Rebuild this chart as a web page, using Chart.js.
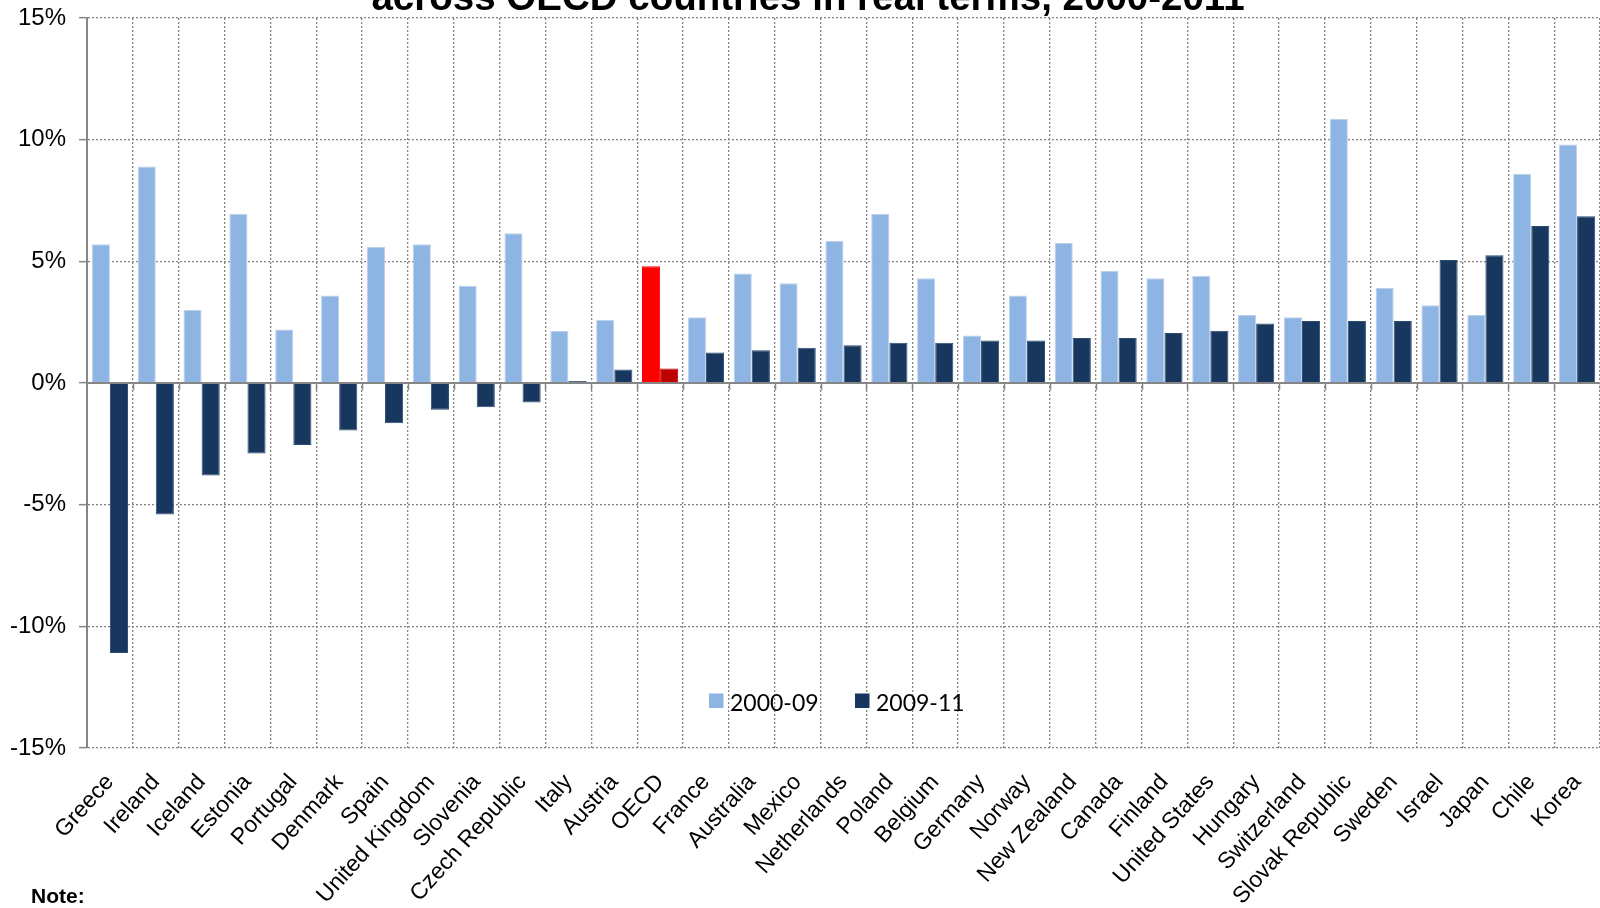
<!DOCTYPE html>
<html>
<head>
<meta charset="utf-8">
<title>Household disposable income growth across OECD countries</title>
<script src="https://cdn.jsdelivr.net/npm/chart.js@4.4.1/dist/chart.umd.min.js"></script>
<style>
  html, body { margin: 0; padding: 0; background: #ffffff; }
  #wrap { position: relative; width: 1600px; height: 908px; }
</style>
</head>
<body>
<div id="wrap"><canvas id="chart" width="1600" height="908"></canvas></div>
<script>
// Countries, ordered by growth over 2009-11
const categories = [
  'Greece', 'Ireland', 'Iceland', 'Estonia', 'Portugal', 'Denmark', 'Spain',
  'United Kingdom', 'Slovenia', 'Czech Republic', 'Italy', 'Austria', 'OECD',
  'France', 'Australia', 'Mexico', 'Netherlands', 'Poland', 'Belgium', 'Germany',
  'Norway', 'New Zealand', 'Canada', 'Finland', 'United States', 'Hungary',
  'Switzerland', 'Slovak Republic', 'Sweden', 'Israel', 'Japan', 'Chile', 'Korea'
];

// Annual growth, % in real terms
const growth2000to09 = [
  5.7, 8.9, 3.0, 6.95, 2.2, 3.6, 5.6, 5.7, 4.0, 6.15, 2.15, 2.6, 4.8,
  2.7, 4.5, 4.1, 5.85, 6.95, 4.3, 1.95, 3.6, 5.75, 4.6, 4.3, 4.4, 2.8,
  2.7, 10.85, 3.9, 3.2, 2.8, 8.6, 9.8
];
const growth2009to11 = [
  -11.1, -5.4, -3.8, -2.9, -2.55, -1.95, -1.65, -1.1, -1.0, -0.8, 0.08, 0.55, 0.6,
  1.25, 1.35, 1.45, 1.55, 1.65, 1.65, 1.75, 1.75, 1.85, 1.85, 2.05, 2.15, 2.45,
  2.55, 2.55, 2.55, 5.05, 5.25, 6.45, 6.85
];

const seriesLabels = ['2000-09', '2009-11'];
const yTickValues = [-15, -10, -5, 0, 5, 10, 15];

const titleText = 'across OECD countries in real terms, 2000-2011';
const noteText = 'Note:';

const FONT = "'Liberation Sans', Arial, sans-serif";
const GRID = '#858585';
const AXIS = '#868686';

// Colours: the OECD average is picked out in red
const lightFill = categories.map(c => c === 'OECD' ? '#FF0000' : '#8EB4E3');
const lightEdge = categories.map(c => c === 'OECD' ? '#FF0000' : '#BCD0EB');
const darkFill  = categories.map(c => c === 'OECD' ? '#C00000' : '#17375E');
const darkEdge  = categories.map(c => c === 'OECD' ? '#C00000' : '#2E4D73');

// Zero axis line with its small tick marks, drawn over the bars
const zeroAxisPlugin = {
  id: 'zeroAxis',
  afterDatasetsDraw(chart) {
    const { ctx, scales: { x, y } } = chart;
    const y0 = Math.round(y.getPixelForValue(0));
    ctx.save();
    ctx.strokeStyle = AXIS;
    ctx.lineWidth = 2;
    ctx.beginPath();
    ctx.moveTo(x.left, y0);
    ctx.lineTo(x.right, y0);
    ctx.stroke();
    ctx.lineWidth = 1.5;
    const n = categories.length;
    const w = (x.right - x.left) / n;
    ctx.beginPath();
    for (let i = 1; i <= n; i++) {
      const px = Math.round(x.left + i * w) + 0.5;
      ctx.moveTo(px, y0);
      ctx.lineTo(px, y0 + 7);
    }
    ctx.stroke();
    ctx.restore();
  }
};

// Title line, footnote and the in-plot legend
const textPlugin = {
  id: 'chartText',
  afterDraw(chart) {
    const { ctx } = chart;
    ctx.save();
    ctx.fillStyle = '#000';
    ctx.textBaseline = 'alphabetic';

    ctx.font = `bold 38.5px ${FONT}`;
    ctx.textAlign = 'center';
    ctx.fillText(titleText, 808, 10);

    ctx.font = `bold 21px ${FONT}`;
    ctx.textAlign = 'left';
    ctx.fillText(noteText, 31, 903);

    const items = [
      { box: 709, text: 730, ds: 0 },
      { box: 855, text: 876, ds: 1 }
    ];
    ctx.font = "23px Lato, 'Open Sans', sans-serif";
    items.forEach(it => {
      const ds = chart.data.datasets[it.ds];
      ctx.fillStyle = it.ds === 0 ? '#8EB4E3' : '#17375E';
      ctx.fillRect(it.box, 693.5, 14.5, 14.5);
      ctx.fillStyle = '#000';
      ctx.fillText(ds.label, it.text, 711);
    });
    ctx.restore();
  }
};

new Chart(document.getElementById('chart'), {
  type: 'bar',
  data: {
    labels: categories,
    datasets: [
      {
        label: seriesLabels[0],
        data: growth2000to09,
        backgroundColor: lightFill,
        borderColor: lightEdge,
        borderWidth: 1
      },
      {
        label: seriesLabels[1],
        data: growth2009to11,
        backgroundColor: darkFill,
        borderColor: darkEdge,
        borderWidth: 1
      }
    ]
  },
  options: {
    responsive: false,
    animation: false,
    devicePixelRatio: 1,
    layout: { padding: { top: 18, left: 0, right: 0, bottom: 0 } },
    datasets: {
      bar: { categoryPercentage: 0.79, barPercentage: 1.0 }
    },
    plugins: {
      legend: { display: false },
      title: { display: false },
      tooltip: { enabled: false }
    },
    scales: {
      x: {
        offset: true,
        grid: {
          offset: true,
          color: GRID,
          lineWidth: 1.3,
          drawTicks: false
        },
        border: { display: false, dash: [2, 2] },
        ticks: {
          autoSkip: false,
          maxRotation: 48,
          minRotation: 48,
          padding: 21,
          color: '#000',
          font: { family: FONT, size: 23 }
        },
        afterFit(scale) {
          scale.height = 160;
          scale.paddingLeft = 0;
          scale.paddingRight = 0;
        }
      },
      y: {
        min: -15,
        max: 15,
        afterBuildTicks(scale) {
          scale.ticks = yTickValues.map(v => ({ value: v }));
        },
        grid: {
          color: ctx => (ctx.tick && ctx.tick.value === 0) ? 'rgba(0,0,0,0)' : GRID,
          lineWidth: 1.3,
          tickLength: 8,
          tickColor: AXIS,
          tickWidth: 1.5
        },
        border: { display: true, color: AXIS, width: 2, dash: [2, 2] },
        ticks: {
          padding: 13,
          color: '#000',
          font: { family: FONT, size: 24 },
          callback: v => v + '%'
        },
        afterFit(scale) {
          scale.width = 87;
          scale.paddingTop = 0;
          scale.paddingBottom = 0;
        }
      }
    }
  },
  plugins: [zeroAxisPlugin, textPlugin]
});
</script>
</body>
</html>
